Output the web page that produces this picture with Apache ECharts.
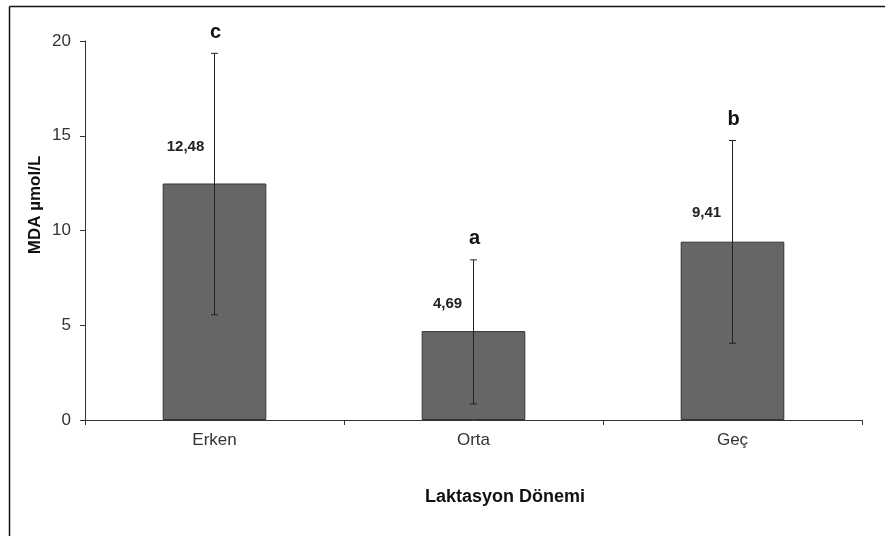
<!DOCTYPE html>
<html><head><meta charset="utf-8">
<script src="https://cdn.jsdelivr.net/npm/echarts@6/dist/echarts.min.js"></script>
<style>html,body{margin:0;padding:0;background:#fff}#c{width:885px;height:536px}</style>
</head><body><div id="c"></div>
<script>
var categories = ['Erken', 'Orta', 'Geç'];
var means = [12.48, 4.69, 9.41];
var meanLabels = ['12,48', '4,69', '9,41'];
var errLow = [5.55, 0.85, 4.05];
var errHigh = [19.35, 8.45, 14.75];
var letters = ['c', 'a', 'b'];
var yTicks = [0, 5, 10, 15, 20];

var chart = echarts.init(document.getElementById('c'));
var font = 'Liberation Sans, Arial, sans-serif';
var labelOffsets = [[-29, -29], [-26, -20], [-26, -21]];
chart.setOption({
  animation: false,
  backgroundColor: '#fff',
  grid: { left: 85, right: 23, top: 41, bottom: 116 },
  xAxis: {
    type: 'category', data: categories,
    axisLine: { lineStyle: { color: '#333', width: 1 } },
    axisTick: { show: true, alignWithLabel: false, length: 5, lineStyle: { color: '#333' } },
    axisLabel: { color: '#333', fontSize: 17, fontFamily: font, margin: 12 }
  },
  yAxis: {
    type: 'value', min: 0, max: 20, interval: 5,
    axisLine: { show: true, lineStyle: { color: '#333', width: 1 } },
    axisTick: { show: true, length: 5, lineStyle: { color: '#333' } },
    splitLine: { show: false },
    axisLabel: { color: '#333', fontSize: 17, fontFamily: font, margin: 14 }
  },
  series: [
    {
      type: 'bar', barWidth: '40%',
      data: means.map(function (v, i) {
        return { value: v, label: { formatter: meanLabels[i], offset: labelOffsets[i] } };
      }),
      itemStyle: { color: '#666666', borderColor: '#333', borderWidth: 1 },
      label: { show: true, position: 'top', distance: 0, align: 'center',
        color: '#222', fontWeight: 'bold', fontSize: 15, fontFamily: font }
    },
    {
      type: 'custom',
      data: categories.map(function (c, i) { return [i, errLow[i], errHigh[i]]; }),
      renderItem: function (params, api) {
        var x = api.coord([api.value(0), 0])[0];
        var lo = api.coord([api.value(0), api.value(1)])[1];
        var hi = api.coord([api.value(0), api.value(2)])[1];
        var st = { stroke: '#222', lineWidth: 1 };
        return { type: 'group', children: [
          { type: 'line', shape: { x1: x, y1: hi, x2: x, y2: lo }, style: st },
          { type: 'line', shape: { x1: x - 3.5, y1: hi, x2: x + 3.5, y2: hi }, style: st },
          { type: 'line', shape: { x1: x - 3.5, y1: lo, x2: x + 3.5, y2: lo }, style: st },
          { type: 'text', x: x + 1, y: hi - 21, style: { text: letters[params.dataIndex], x: 0, y: 0,
              align: 'center', verticalAlign: 'middle', fill: '#111', font: 'bold 20px ' + font } }
        ] };
      },
      z: 5
    }
  ],
  graphic: [
    { type: 'line', shape: { x1: 9.5, y1: 6.5, x2: 885, y2: 6.5 }, style: { stroke: '#111', lineWidth: 1.5 } },
    { type: 'line', shape: { x1: 9.5, y1: 6.5, x2: 9.5, y2: 536 }, style: { stroke: '#111', lineWidth: 1.5 } },
    { type: 'text', x: 505, y: 497, style: { text: 'Laktasyon Dönemi', align: 'center', verticalAlign: 'middle',
        fill: '#111', font: 'bold 18px ' + font } },
    { type: 'text', x: 35, y: 205, rotation: Math.PI / 2, style: { text: 'MDA µmol/L', align: 'center', verticalAlign: 'middle',
        fill: '#111', font: 'bold 17px ' + font } }
  ]
});
</script></body></html>
